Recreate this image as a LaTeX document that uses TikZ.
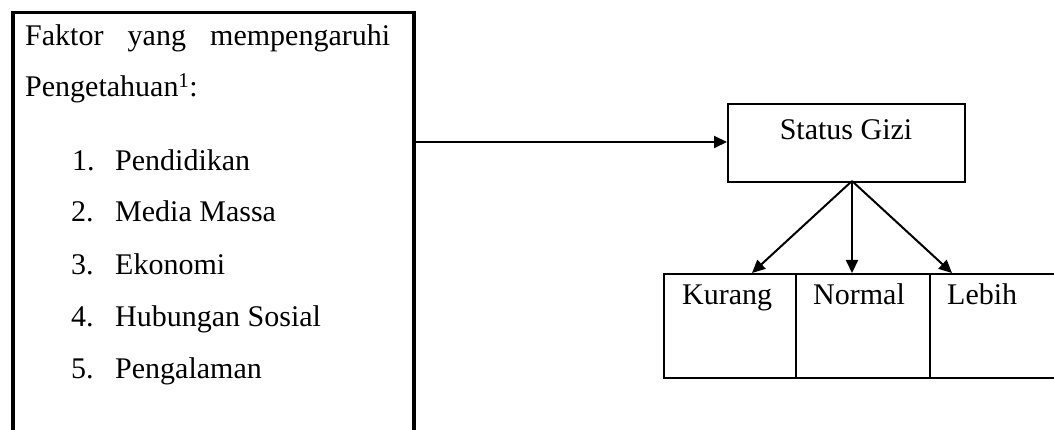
\documentclass[tikz,border=0pt]{standalone}
\usepackage{fontspec}
\setmainfont{Liberation Serif}
\usetikzlibrary{arrows.meta}
\begin{document}
\begin{tikzpicture}[x=1pt,y=1pt,
  txt/.style={inner sep=0pt, anchor=base west, font=\fontsize{30}{36}\selectfont},
  box/.style={draw, line width=2pt},
  conn/.style={line width=2pt, -{Triangle[length=13pt,width=12pt]}}]
\clip (0,0) rectangle (1054,-430);
\fill[white] (0,0) rectangle (1054,-430);
% left box (open at the bottom edge of the picture)
\node[draw, line width=3.5pt, minimum width=401pt, minimum height=430pt, anchor=north west, inner sep=0pt] (fak) at (11,-11) {};
\node[txt] (t1) at (25,-46) {\makebox[365pt][s]{Faktor\hfill yang\hfill mempengaruhi}};
\node[txt] (t2) at (25,-97) {Pengetahuan\textsuperscript{1}:};
\node[txt] (n1) at (72,-171) {1.};
\node[txt] (i1) at (115,-171) {Pendidikan};
\node[txt] (n2) at (71,-222) {2.};
\node[txt] (i2) at (115,-222) {Media Massa};
\node[txt] (n3) at (71,-274) {3.};
\node[txt] (i3) at (115,-274) {Ekonomi};
\node[txt] (n4) at (71,-326) {4.};
\node[txt] (i4) at (115,-326) {Hubungan Sosial};
\node[txt] (n5) at (71,-378) {5.};
\node[txt] (i5) at (115,-378) {Pengalaman};
% status gizi
\node[box, minimum width=237pt, minimum height=78pt, anchor=north west, inner sep=0pt] (sg) at (727,-103) {};
\node[txt, anchor=base] (sgt) at (846,-140) {Status Gizi};
% bottom boxes
\node[box, minimum width=132pt, minimum height=104pt, anchor=north west, inner sep=0pt] (ku) at (663,-273) {};
\node[box, minimum width=134pt, minimum height=104pt, anchor=north west, inner sep=0pt] (no) at (795,-273) {};
\node[box, minimum width=140pt, minimum height=104pt, anchor=north west, inner sep=0pt] (le) at (929,-273) {};
\node[txt] (kut) at (682,-304) {Kurang};
\node[txt] (not) at (813,-304) {Normal};
\node[txt] (let) at (947,-304) {Lebih};
% connectors
\coordinate (o) at (852,-181);
\coordinate (ka) at (752,-273);
\coordinate (na) at (852,-273);
\coordinate (la) at (952,-273);
\draw[conn] (fak.east |- 0,-142) -- (sg.west |- 0,-142);
\draw[conn] (o) -- (ka);
\draw[conn] (o) -- (na);
\draw[conn] (o) -- (la);
\end{tikzpicture}
\end{document}
